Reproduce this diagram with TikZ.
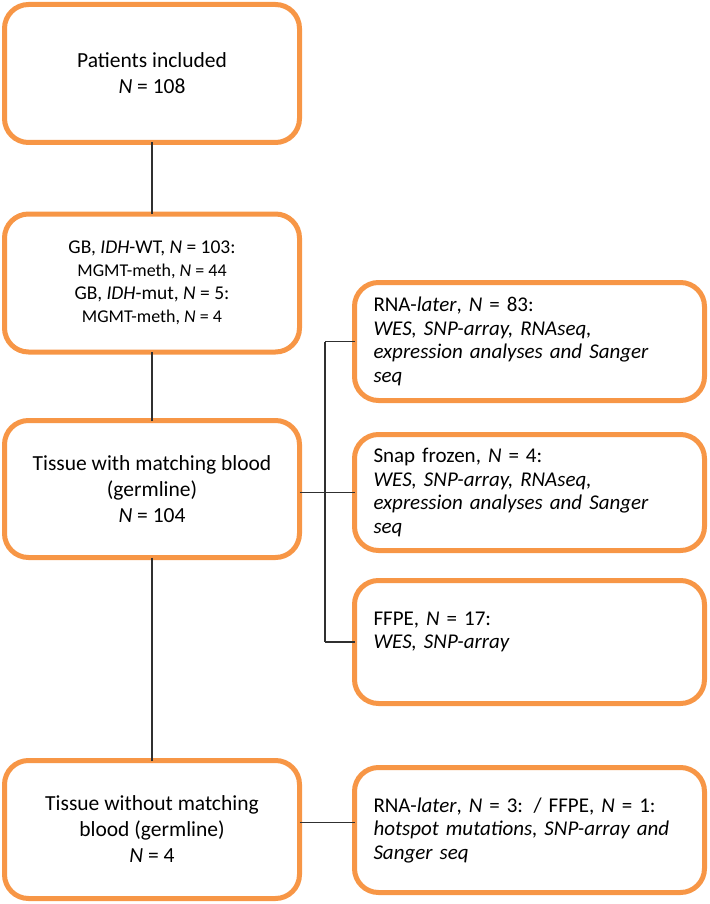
\documentclass[tikz,border=0pt]{standalone}
\usepackage{fontspec}
\setmainfont{Carlito}
\usetikzlibrary{calc}
\definecolor{boxorange}{HTML}{F79646}
\definecolor{linegray}{HTML}{303030}
\tikzset{
  leftbox/.style={draw=boxorange, line width=5pt, rounded corners=24pt, fill=white,
    minimum width=295pt, inner sep=0pt, outer sep=0pt, align=center,
    font=\fontsize{21.5}{26}\selectfont},
  rightbox/.style={draw=boxorange, line width=5pt, rounded corners=24pt, fill=white,
    minimum width=350pt, inner sep=0pt, outer sep=0pt, text width=312pt, align=left,
    font=\fontsize{21}{23.5}\selectfont},
  conn/.style={draw=linegray, line width=1.3pt}
}
\begin{document}
\begin{tikzpicture}[x=1pt,y=-1pt]
\useasboundingbox (0,0) rectangle (709,904);
\node[leftbox, minimum height=138pt] (b1) at (152,73.5) {Patients included\\\textit{N} = 108};
\node[leftbox, minimum height=138pt, font=\fontsize{19.5}{23}\selectfont] (b2) at (152,283)
  {GB, \textit{IDH}-WT, \textit{N} = 103:\\
   {\fontsize{18}{23}\selectfont MGMT-meth, \textit{N} = 44}\\
   GB, \textit{IDH}-mut, \textit{N} = 5:\\
   {\fontsize{18}{23}\selectfont MGMT-meth, \textit{N} = 4}};
\node[leftbox, minimum height=137pt] (b3) at (152,489)
  {Tissue with matching blood\\(germline)\\\textit{N} = 104};
\node[leftbox, minimum height=138pt] (b4) at (152,829.5)
  {Tissue without matching\\blood (germline)\\\textit{N} = 4};

\node[rightbox, minimum height=118pt] (r1) at (529.5,341.5)
  {RNA-\textit{later}, \textit{N} = 83:\\\textit{WES, SNP-array, RNAseq,}\\\textit{expression analyses and Sanger}\\\textit{seq}};
\node[rightbox, minimum height=116pt] (r2) at (529.5,492.5)
  {Snap frozen, \textit{N} = 4:\\\textit{WES, SNP-array, RNAseq,}\\\textit{expression analyses and Sanger}\\\textit{seq}};
\node[rightbox, minimum height=123pt] (r3) at (529.5,642)
  {FFPE, \textit{N} = 17:\\\textit{WES, SNP-array}\\\mbox{}};
\node[rightbox, minimum height=125pt] (r4) at (529.5,830)
  {RNA-\textit{later}, \textit{N} = 3: / FFPE, \textit{N} = 1:\\\textit{hotspot mutations, SNP-array and}\\\textit{Sanger seq}};

\coordinate (jx) at (325,0);
\draw[conn] (b1.south) -- (b2.north);
\draw[conn] (b2.south) -- (b3.north);
\draw[conn] (b3.south) -- (b4.north);
\draw[conn] (b3.east |- r2.west) -- (r2.west);
\draw[conn] (r1.west -| jx) -- (r3.west -| jx);
\draw[conn] (r1.west -| jx) -- (r1.west);
\draw[conn] (r3.west -| jx) -- (r3.west);
\draw[conn] ([yshift=7pt]b4.east) -- ([yshift=7pt]b4.east -| r4.west);
\end{tikzpicture}
\end{document}
